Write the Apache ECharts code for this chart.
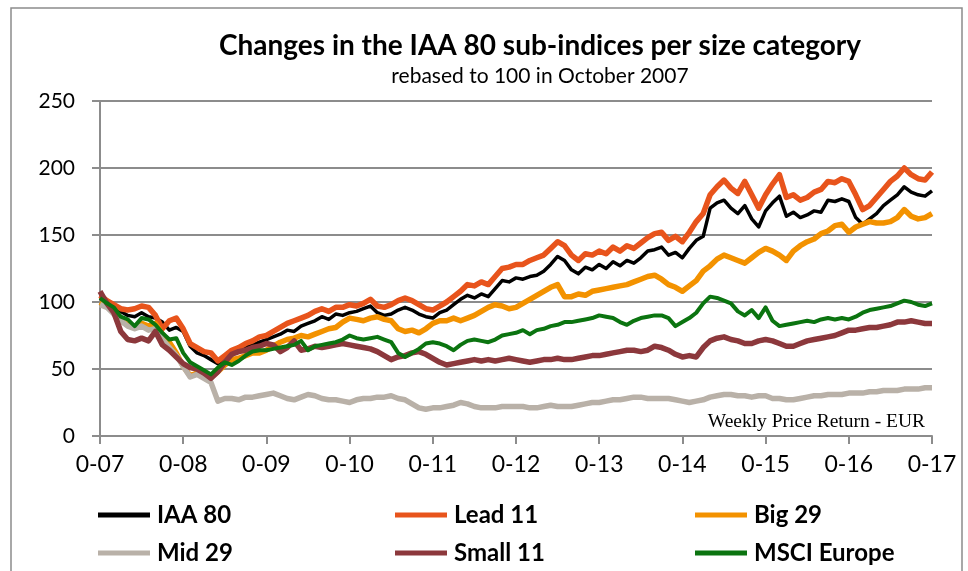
<!DOCTYPE html>
<html lang="en">
  <head>
    <meta charset="UTF-8" />
    <title>IAA 80 sub-indices</title>
    <script src="https://cdn.jsdelivr.net/npm/echarts@6/dist/echarts.min.js"></script>
    <style>
      html, body { margin: 0; padding: 0; background: #fff; }
    </style>
  </head>
  <body>
    <div id="main" style="width: 968px; height: 571px"></div>
    <script type="text/javascript">
      // monthly readings, Oct 2007 .. Oct 2017 (121 points each)
      const xLabels = ["0-07", "0-08", "0-09", "0-10", "0-11", "0-12", "0-13", "0-14", "0-15", "0-16", "0-17"];

      const iaa80 = [103, 100, 97, 93, 90, 89, 92, 89, 88, 85, 79, 81, 78, 67, 62, 60, 57, 54, 57, 60, 64, 66, 68, 70,
        72, 74, 76, 79, 78, 82, 84, 86, 89, 87, 91, 90, 92, 93, 95, 97, 92, 90, 91, 94, 96, 94, 91, 89,
        88, 92, 94, 98, 102, 105, 103, 106, 104, 110, 116, 115, 118, 117, 119, 120, 123, 128, 134, 131, 124, 121, 126, 124,
        128, 125, 130, 127, 131, 129, 133, 138, 139, 141, 135, 137, 133, 140, 146, 149, 170, 174, 176, 170, 166, 172, 162, 156,
        168, 174, 179, 164, 167, 163, 165, 168, 167, 176, 175, 177, 175, 163, 158, 162, 166, 172, 176, 180, 186, 182, 180, 179, 183];

      const lead11 = [105, 101, 98, 95, 94, 95, 97, 96, 90, 80, 86, 88, 80, 69, 66, 63, 62, 56, 60, 64, 66, 69, 71, 74,
        75, 78, 81, 84, 86, 88, 90, 93, 95, 93, 96, 96, 98, 97, 99, 102, 97, 96, 98, 101, 103, 101, 98, 95,
        94, 97, 100, 104, 108, 113, 112, 115, 113, 119, 125, 126, 128, 128, 131, 133, 135, 140, 145, 142, 135, 131, 136, 135,
        138, 136, 141, 138, 142, 140, 144, 148, 151, 152, 146, 149, 145, 152, 160, 166, 180, 186, 191, 185, 181, 190, 180, 170,
        180, 188, 195, 178, 180, 176, 178, 182, 184, 190, 189, 192, 190, 180, 169, 172, 178, 184, 190, 194, 200, 195, 192, 191, 197];

      const big29 = [100, 97, 93, 86, 83, 81, 84, 82, 84, 76, 70, 62, 52, 45, 47, 46, 44, 48, 53, 57, 58, 60, 62, 62,
        64, 67, 70, 72, 73, 75, 74, 76, 78, 80, 81, 85, 88, 87, 86, 88, 89, 87, 86, 80, 78, 79, 77, 80,
        84, 86, 86, 88, 86, 88, 90, 93, 96, 98, 97, 95, 96, 99, 102, 105, 108, 111, 113, 104, 104, 106, 105, 108,
        109, 110, 111, 112, 113, 115, 117, 119, 120, 117, 113, 111, 108, 112, 116, 123, 127, 132, 135, 133, 131, 129, 133, 137,
        140, 138, 135, 131, 138, 142, 145, 147, 151, 153, 157, 158, 152, 156, 158, 160, 159, 159, 160, 163, 169, 164, 162, 163, 166];

      const mid29 = [98, 96, 91, 86, 82, 80, 82, 79, 80, 72, 66, 60, 52, 44, 46, 43, 40, 26, 28, 28, 27, 29, 29, 30,
        31, 32, 30, 28, 27, 29, 31, 30, 28, 27, 27, 26, 25, 27, 28, 28, 29, 29, 30, 28, 27, 24, 21, 20,
        21, 21, 22, 23, 25, 24, 22, 21, 21, 21, 22, 22, 22, 22, 21, 21, 22, 23, 22, 22, 22, 23, 24, 25,
        25, 26, 27, 27, 28, 29, 29, 28, 28, 28, 28, 27, 26, 25, 26, 27, 29, 30, 31, 31, 30, 30, 29, 30,
        30, 28, 28, 27, 27, 28, 29, 30, 30, 31, 31, 31, 32, 32, 32, 33, 33, 34, 34, 34, 35, 35, 35, 36, 36];

      const small11 = [108, 99, 92, 78, 72, 71, 73, 71, 78, 68, 64, 59, 54, 51, 50, 47, 43, 48, 55, 61, 63, 64, 66, 67,
        69, 68, 63, 66, 71, 64, 65, 67, 66, 67, 68, 69, 68, 67, 66, 65, 63, 60, 57, 59, 60, 62, 63, 61,
        58, 55, 53, 54, 55, 56, 57, 56, 57, 56, 57, 58, 57, 56, 55, 56, 57, 57, 58, 57, 57, 58, 59, 60,
        60, 61, 62, 63, 64, 64, 63, 64, 67, 66, 64, 61, 59, 60, 59, 66, 71, 73, 74, 72, 71, 69, 69, 71,
        72, 71, 69, 67, 67, 69, 71, 72, 73, 74, 75, 77, 79, 79, 80, 81, 81, 82, 83, 85, 85, 86, 85, 84, 84];

      const msciEurope = [103, 99, 96, 89, 87, 82, 88, 87, 83, 77, 72, 73, 62, 55, 52, 49, 46, 51, 55, 53, 56, 60, 63, 64,
        64, 65, 66, 67, 68, 71, 64, 67, 68, 69, 70, 72, 75, 73, 72, 73, 74, 72, 70, 62, 59, 62, 65, 69,
        70, 69, 67, 64, 68, 71, 72, 71, 70, 72, 75, 76, 77, 79, 76, 79, 80, 82, 83, 85, 85, 86, 87, 88,
        90, 89, 88, 85, 83, 86, 88, 89, 90, 90, 88, 82, 85, 88, 92, 99, 104, 103, 101, 99, 93, 90, 94, 88,
        96, 86, 82, 83, 84, 85, 86, 85, 87, 88, 87, 88, 87, 89, 92, 94, 95, 96, 97, 99, 101, 100, 98, 97, 99];

      const seriesList = [
        { name: "IAA 80", data: iaa80, color: "#000000", width: 3.5 },
        { name: "Lead 11", data: lead11, color: "#e8541c", width: 5.5 },
        { name: "Big 29", data: big29, color: "#f39200", width: 5.5 },
        { name: "Mid 29", data: mid29, color: "#b9b1a8", width: 5.5 },
        { name: "Small 11", data: small11, color: "#8c383c", width: 5.5 },
        { name: "MSCI Europe", data: msciEurope, color: "#0b7410", width: 4 }
      ];

      const font = "Lato, 'Open Sans', sans-serif";
      const legendPos = [
        [98, 503], [395, 503], [695, 503],
        [98, 541], [395, 541], [695, 541]
      ];

      let myChart = echarts.init(document.getElementById("main"));

      let options = {
        animation: false,
        backgroundColor: "#fff",
        title: {
          text: "Changes in the IAA 80 sub-indices per size category",
          subtext: "rebased to 100 in October 2007",
          left: 535,
          textAlign: "center",
          top: 27,
          itemGap: 6,
          textStyle: { fontFamily: font, fontSize: 28, fontWeight: "bold", color: "#000" },
          subtextStyle: { fontFamily: font, fontSize: 21, color: "#000" }
        },
        legend: seriesList.map((s, k) => ({
          data: [s.name],
          left: legendPos[k][0],
          top: legendPos[k][1],
          padding: 0,
          icon: "rect",
          itemWidth: 52,
          itemHeight: 5,
          itemGap: 0,
          textStyle: { fontFamily: font, fontSize: 24, fontWeight: "bold", color: "#000", padding: [0, 0, 0, 2] }
        })),
        grid: { left: 100, right: 36, top: 101, bottom: 135, containLabel: false },
        xAxis: {
          type: "value",
          min: 0,
          max: 120,
          interval: 12,
          axisLine: { lineStyle: { color: "#8c8c8c", width: 2 } },
          axisTick: { show: true, length: 8, lineStyle: { color: "#8c8c8c", width: 2 } },
          splitLine: { show: false },
          axisLabel: {
            margin: 17,
            fontFamily: font,
            fontSize: 23,
            color: "#000",
            formatter: (v) => xLabels[Math.round(v / 12)]
          }
        },
        yAxis: {
          type: "value",
          min: 0,
          max: 250,
          interval: 50,
          axisLine: { show: true, lineStyle: { color: "#8c8c8c", width: 2 } },
          axisTick: { show: true, length: 8, lineStyle: { color: "#8c8c8c", width: 2 } },
          splitLine: { show: true, lineStyle: { color: "#8c8c8c", width: 2 } },
          axisLabel: { margin: 25, fontFamily: font, fontSize: 21, color: "#000" }
        },
        graphic: [
          {
            type: "rect",
            silent: true,
            shape: { x: 11, y: 8, width: 951, height: 600 },
            style: { fill: null, stroke: "#8c8c8c", lineWidth: 1.5 }
          },
          {
            type: "text",
            x: 925,
            y: 422,
            style: {
              text: "Weekly Price Return - EUR",
              fontFamily: "'Liberation Serif', 'DejaVu Serif', serif",
              fontSize: 19.5,
              fill: "#000",
              textAlign: "right",
              textVerticalAlign: "middle"
            }
          }
        ],
        series: seriesList.map((s) => ({
          name: s.name,
          type: "line",
          symbol: "none",
          data: s.data.map((v, i) => [i, v]),
          itemStyle: { color: s.color },
          lineStyle: { color: s.color, width: s.width, join: "round" }
        }))
      };

      myChart.setOption(options);
    </script>
  </body>
</html>
